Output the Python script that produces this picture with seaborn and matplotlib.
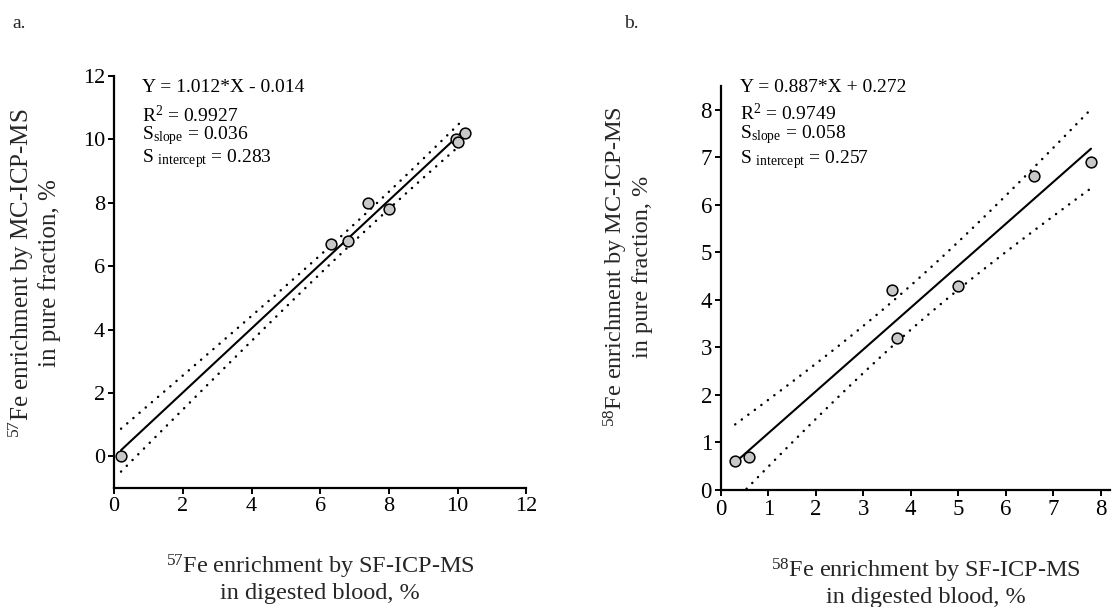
import numpy as np
import pandas as pd
import matplotlib
matplotlib.use("Agg")
import matplotlib.pyplot as plt
import seaborn as sns

# ---- data ----
a_x = [0.2, 6.3, 6.8, 7.4, 8.0, 9.95, 10.0, 10.2]
a_y = [0.0, 6.7, 6.8, 8.0, 7.8, 10.0, 9.9, 10.2]
b_x = [0.3, 0.6, 3.6, 3.7, 5.0, 6.6, 7.8]
b_y = [0.6, 0.7, 4.2, 3.2, 4.3, 6.6, 6.9]

a_ticks_x = [0, 2, 4, 6, 8, 10, 12]
a_ticks_y = [0, 2, 4, 6, 8, 10, 12]
b_ticks_x = [0, 1, 2, 3, 4, 5, 6, 7, 8]
b_ticks_y = [0, 1, 2, 3, 4, 5, 6, 7, 8]

a_stats = ["Y = 1.012*X - 0.014", r"R$^{2}$ = 0.9927",
           r"S$_{\mathrm{slope}}$ = 0.036", r"S $_{\mathrm{intercept}}$ = 0.283"]
b_stats = ["Y = 0.887*X + 0.272", r"R$^{2}$ = 0.9749",
           r"S$_{\mathrm{slope}}$ = 0.058", r"S $_{\mathrm{intercept}}$ = 0.257"]

a_xlabel = "$^{57}$Fe enrichment by SF-ICP-MS\nin digested blood, %"
a_ylabel = "$^{57}$Fe enrichment by MC-ICP-MS\nin pure fraction, %"
b_xlabel = "$^{58}$Fe enrichment by SF-ICP-MS\nin digested blood, %"
b_ylabel = "$^{58}$Fe enrichment by MC-ICP-MS\nin pure fraction, %"

T95 = {5: 2.571, 6: 2.447}

sns.set_style("ticks")
plt.rcParams["font.family"] = ["Liberation Serif", "DejaVu Serif"]
plt.rcParams["mathtext.fontset"] = "custom"
plt.rcParams["mathtext.rm"] = "Liberation Serif"
plt.rcParams["mathtext.it"] = "Liberation Serif:italic"
plt.rcParams["mathtext.bf"] = "Liberation Serif:bold"

fig = plt.figure(figsize=(11.14, 6.07), dpi=100)
ax_a = fig.add_axes([0.1025, 0.196, 0.370, 0.679])
ax_b = fig.add_axes([0.6472, 0.1928, 0.3492, 0.6656])


def draw(ax, xs, ys, stats, xlabel, ylabel, xlim, ylim, xt, yt, tfs,
         lfs, stat_x, stat_ys, xl_pos, yl_pos):
    df = pd.DataFrame({"x": xs, "y": ys})
    x = np.asarray(xs, float)
    y = np.asarray(ys, float)
    n = len(x)
    slope, icpt = np.polyfit(x, y, 1)
    resid = y - (slope * x + icpt)
    s = np.sqrt(np.sum(resid ** 2) / (n - 2))
    sxx = np.sum((x - x.mean()) ** 2)
    xx = np.linspace(x.min(), x.max(), 100)
    yy = slope * xx + icpt
    half = T95[n - 2] * s * np.sqrt(1.0 / n + (xx - x.mean()) ** 2 / sxx)

    sns.regplot(data=df, x="x", y="y", ax=ax, scatter=False, ci=None,
                color="black", line_kws=dict(lw=1.5, zorder=2))
    for sign in (1, -1):
        ax.plot(xx, yy + sign * half, color="black", lw=1.8,
                linestyle=(0, (0.05, 3.2)), dash_capstyle="round", zorder=2)
    sns.scatterplot(data=df, x="x", y="y", ax=ax, s=60, color="#c8c8c8",
                    edgecolor="black", linewidth=1.1, zorder=3)

    ax.set_xlim(*xlim)
    ax.set_ylim(*ylim)
    ax.set_xticks(xt)
    ax.set_yticks(yt)
    ax.tick_params(axis="both", direction="out", length=4.5, width=1.4,
                   labelsize=tfs, colors="black", pad=2)
    for sp in ("left", "bottom"):
        ax.spines[sp].set_linewidth(1.6)
        ax.spines[sp].set_color("black")
    sns.despine(ax=ax)

    ax.set_xlabel(xlabel, fontsize=lfs[0], linespacing=1.12)
    ax.set_ylabel(ylabel, fontsize=lfs[1], linespacing=1.12)
    ax.xaxis.label.set_va("top")
    ax.xaxis.set_label_coords(*xl_pos)
    ax.yaxis.set_label_coords(*yl_pos)

    for t, yy_ in zip(stats, stat_ys):
        ax.text(stat_x, yy_, t, transform=ax.transAxes, fontsize=14,
                ha="left", va="center", color="black")


draw(ax_a, a_x, a_y, a_stats, a_xlabel, a_ylabel, (0, 12), (-1, 12),
     a_ticks_x, a_ticks_y, 16, (17.5, 18), 0.067,
     [0.971, 0.905, 0.856, 0.800],
     (0.5, -0.158), (-0.128, 0.522))
draw(ax_b, b_x, b_y, b_stats, b_xlabel, b_ylabel, (0, 8.2), (0, 8.5),
     b_ticks_x, b_ticks_y, 16.5, (17.5, 17.5), 0.049,
     [0.995, 0.933, 0.879, 0.817],
     (0.527, -0.165), (-0.175, 0.552))

fig.text(12 / 1114, 1 - 23 / 607, "a.", fontsize=14, ha="left", va="center")
fig.text(624 / 1114, 1 - 23 / 607, "b.", fontsize=14, ha="left", va="center")

fig.savefig("out.png", dpi=100, facecolor="white")
